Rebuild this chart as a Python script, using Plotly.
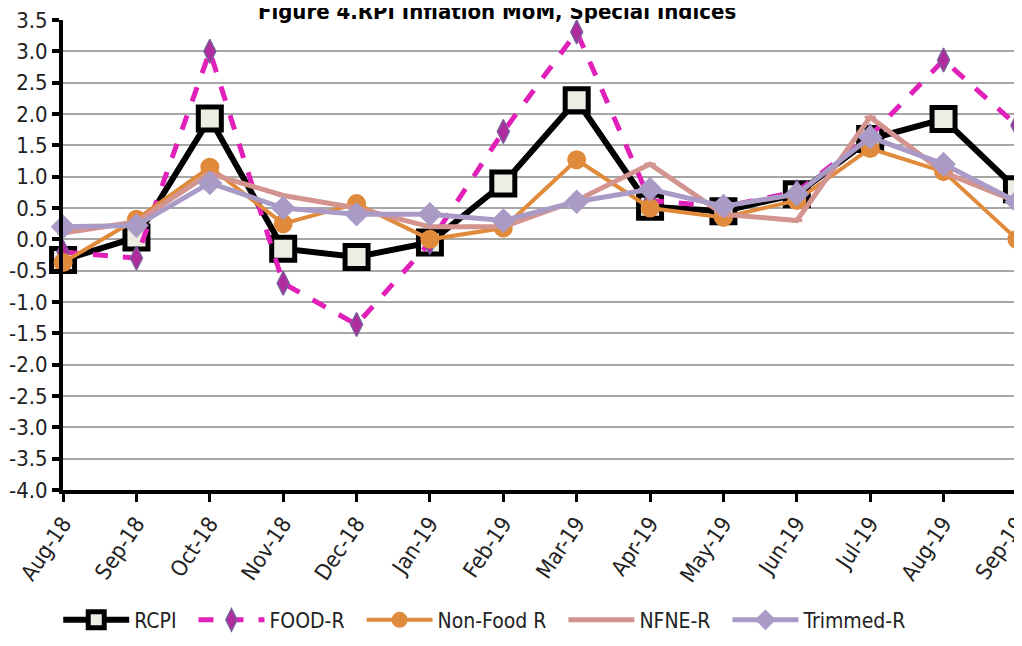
import plotly.graph_objects as go

months = ["Aug-18", "Sep-18", "Oct-18", "Nov-18", "Dec-18", "Jan-19", "Feb-19",
          "Mar-19", "Apr-19", "May-19", "Jun-19", "Jul-19", "Aug-19", "Sep-19"]
rcpi = [-0.33, 0.03, 1.93, -0.15, -0.28, -0.05, 0.89, 2.22, 0.52, 0.45, 0.72, 1.6, 1.92, 0.8]
food = [-0.2, -0.3, 3.0, -0.7, -1.36, -0.05, 1.72, 3.31, 0.62, 0.52, 0.76, 1.65, 2.86, 1.82]
nonfood = [-0.37, 0.32, 1.15, 0.25, 0.57, 0.0, 0.18, 1.27, 0.5, 0.35, 0.62, 1.45, 1.08, 0.0]
nfne = [0.1, 0.28, 1.05, 0.7, 0.5, 0.2, 0.2, 0.62, 1.2, 0.4, 0.3, 1.95, 1.07, 0.6]
trimmed = [0.2, 0.22, 0.9, 0.5, 0.4, 0.4, 0.3, 0.6, 0.8, 0.53, 0.72, 1.63, 1.2, 0.6]
y_ticks = [3.5, 3.0, 2.5, 2.0, 1.5, 1.0, 0.5, 0.0, -0.5, -1.0, -1.5, -2.0, -2.5, -3.0, -3.5, -4.0]
series_names = ["RCPI", "FOOD-R", "Non-Food R", "NFNE-R", "Trimmed-R"]

FONT = "DejaVu Sans Condensed, Liberation Sans Narrow, sans-serif"
PAD = "\u00a0" * 2
x = list(range(len(months)))

fig = go.Figure()
fig.add_trace(go.Scatter(
    x=x, y=rcpi, name=series_names[0] + PAD, mode="lines+markers", cliponaxis=False,
    line=dict(color="black", width=6),
    marker=dict(symbol="square", size=23, color="#EEEDE3", line=dict(color="black", width=5))))
fig.add_trace(go.Scatter(
    x=x, y=food, name=series_names[1] + PAD, mode="lines+markers", cliponaxis=False,
    line=dict(color="#E020B8", width=5, dash="dash"),
    marker=dict(symbol="diamond-tall", size=17, color="#B02C9E", line=dict(color="#7A5C9A", width=1.5))))
fig.add_trace(go.Scatter(
    x=x, y=nonfood, name=series_names[2] + PAD, mode="lines+markers", cliponaxis=False,
    line=dict(color="#E08A3C", width=4),
    marker=dict(symbol="circle", size=19, color="#E08A3C")))
fig.add_trace(go.Scatter(
    x=x, y=nfne, name=series_names[3] + PAD, mode="lines+markers", cliponaxis=False,
    line=dict(color="#D39490", width=5),
    marker=dict(symbol="line-ew", size=8, color="#D39490", line=dict(color="#D39490", width=3))))
fig.add_trace(go.Scatter(
    x=x, y=trimmed, name=series_names[4], mode="lines+markers", cliponaxis=False,
    line=dict(color="#A99BC6", width=5),
    marker=dict(symbol="diamond", size=19, color="#A99BC6")))

fig.update_layout(
    width=1014, height=638,
    margin=dict(l=55, r=5, t=12, b=156, autoexpand=False),
    paper_bgcolor="white", plot_bgcolor="white",
    font=dict(family=FONT, color="#222222", size=21),
    title=dict(text="<b>Figure 4.RPI Inflation MoM, Special Indices</b>",
               x=0.455, xref="paper", xanchor="center", y=0.995, yanchor="middle", yref="container",
               font=dict(family=FONT, size=22, color="black")),
    showlegend=True,
    legend=dict(orientation="h", x=-0.005, xanchor="left", y=-0.277, yanchor="middle",
                font=dict(family=FONT, size=21, color="#222222"),
                itemwidth=66, tracegroupgap=0, bgcolor="rgba(0,0,0,0)"),
)
fig.update_xaxes(
    range=[-0.001, 13.001], tickmode="array", tickvals=x, ticktext=months, tickangle=-56,
    showgrid=False, showline=True, linecolor="black", linewidth=4,
    ticks="outside", ticklen=8, tickwidth=3, tickcolor="black", automargin=False,
    ticklabeloverflow="allow",
    tickfont=dict(family=FONT, size=22, color="#222222"), zeroline=False)
fig.update_yaxes(
    range=[-4.0, 3.5], tickmode="array", tickvals=y_ticks,
    ticktext=[f"{v:.1f}" for v in y_ticks],
    showgrid=True, gridcolor="#A6A6A6", gridwidth=2,
    showline=True, linecolor="black", linewidth=4, automargin=False,
    ticklabeloverflow="allow",
    ticks="outside", ticklen=7, tickwidth=4, tickcolor="black",
    tickfont=dict(family=FONT, size=22, color="#222222"), zeroline=False)

fig.write_html("out.html")
